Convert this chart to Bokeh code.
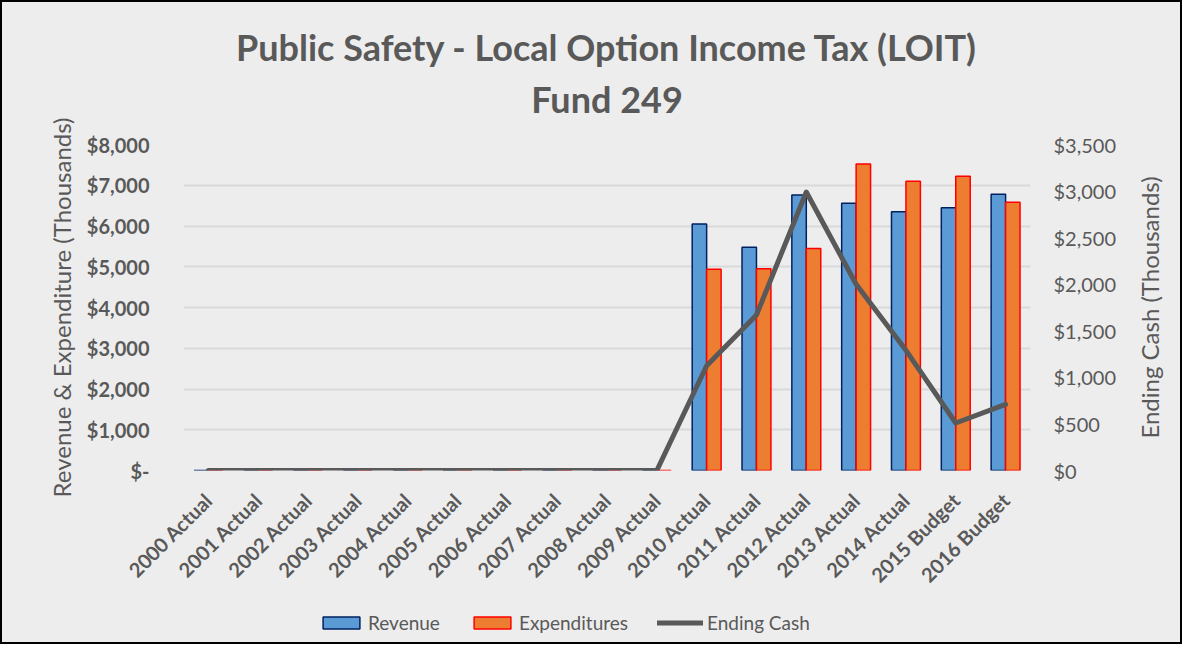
from bokeh.plotting import figure
from bokeh.layouts import column, row
from bokeh.models import (ColumnDataSource, FactorRange, Range1d, LinearAxis,
                          SingleIntervalTicker, CustomJSTickFormatter, Legend,
                          LegendItem, Title)
from bokeh.transform import dodge
from bokeh.embed import file_html
from bokeh.resources import INLINE

years = ["2000 Actual", "2001 Actual", "2002 Actual", "2003 Actual", "2004 Actual",
         "2005 Actual", "2006 Actual", "2007 Actual", "2008 Actual", "2009 Actual",
         "2010 Actual", "2011 Actual", "2012 Actual", "2013 Actual", "2014 Actual",
         "2015 Budget", "2016 Budget"]
revenue = [0, 0, 0, 0, 0, 0, 0, 0, 0, 0,
           6050, 5480, 6760, 6560, 6350, 6450, 6780]
expenditures = [0, 0, 0, 0, 0, 0, 0, 0, 0, 0,
                4940, 4950, 5450, 7520, 7100, 7220, 6580]
ending_cash = [0, 0, 0, 0, 0, 0, 0, 0, 0, 0,
               1125, 1670, 2990, 2000, 1290, 510, 710]

FONT = "Lato"
GRAY = "#595959"
BG = "#EDEDED"
REV_FILL, REV_LINE = "#5B9BD5", "#002060"
EXP_FILL, EXP_LINE = "#ED7D31", "#FF0000"

src = ColumnDataSource(dict(x=years, rev=revenue, exp=expenditures, cash=ending_cash))

W = 1178
H = 595
p = figure(x_range=FactorRange(*years), y_range=Range1d(0, 8000),
           width=1128, height=H, output_backend="svg", toolbar_location=None,
           min_border_left=181, min_border_right=100, min_border_top=142,
           min_border_bottom=126)
p.background_fill_color = BG
p.border_fill_color = BG
p.outline_line_color = None

p.extra_y_ranges = {"cash": Range1d(0, 3500)}

bw = 0.29
p.vbar(x=dodge("x", -bw / 2, range=p.x_range), top="rev", width=bw, source=src,
       fill_color=REV_FILL, line_color=REV_LINE, line_width=1.5)
p.vbar(x=dodge("x", bw / 2, range=p.x_range), top="exp", width=bw, source=src,
       fill_color=EXP_FILL, line_color=EXP_LINE, line_width=1.5)
p.line(x="x", y="cash", source=src, y_range_name="cash",
       line_color=GRAY, line_width=5, line_cap="round", line_join="round")

# left axis
ya = p.yaxis[0]
ya.ticker = SingleIntervalTicker(interval=1000)
ya.formatter = CustomJSTickFormatter(code="""
    return tick == 0 ? "$-" : "$" + tick.toLocaleString("en-US");
""")
ya.axis_label = "Revenue & Expenditure (Thousands)"
ya.axis_label_text_font = FONT
ya.axis_label_text_font_size = "24px"
ya.axis_label_text_font_style = "normal"
ya.axis_label_text_color = GRAY
ya.axis_label_standoff = 8
ya.major_label_text_font = FONT
ya.major_label_text_font_size = "20px"
ya.major_label_text_font_style = "bold"
ya.major_label_text_color = GRAY
ya.major_label_standoff = 28
ya.axis_line_color = None
ya.major_tick_line_color = None
ya.minor_tick_line_color = None

# right axis (its title is drawn by the narrow strip to the right)
ra = LinearAxis(y_range_name="cash", ticker=SingleIntervalTicker(interval=500))
ra.formatter = CustomJSTickFormatter(code="""
    return "$" + tick.toLocaleString("en-US");
""")
ra.major_label_text_font = FONT
ra.major_label_text_font_size = "20px"
ra.major_label_text_color = GRAY
ra.major_label_standoff = 17
ra.axis_line_color = None
ra.major_tick_line_color = None
ra.minor_tick_line_color = None
p.add_layout(ra, "right")

# x axis
xa = p.xaxis[0]
xa.major_label_orientation = 0.785398
xa.major_label_text_font = FONT
xa.major_label_text_font_size = "20px"
xa.major_label_text_font_style = "bold"
xa.major_label_text_color = GRAY
xa.major_label_standoff = 20
xa.axis_line_color = None
xa.major_tick_line_color = None

p.xgrid.grid_line_color = None
p.ygrid.grid_line_color = "#D9D9D9"
p.ygrid.grid_line_width = 2
p.ygrid.ticker = SingleIntervalTicker(interval=1000)

# titles
t2 = Title(text="Fund 249", align="center", text_font=FONT, text_font_size="36px",
           text_font_style="bold", text_color=GRAY, standoff=47)
t1 = Title(text="Public Safety - Local Option Income Tax (LOIT)", align="center",
           text_font=FONT, text_font_size="36px", text_font_style="bold",
           text_color=GRAY, standoff=0)
try:
    t1.standoff = -34
except Exception:
    pass
p.title = None
p.add_layout(t2, "above")
p.add_layout(t1, "above")

# narrow strip carrying the right axis title, reading bottom to top
p3 = figure(width=W - 1128, height=H, output_backend="svg", toolbar_location=None,
            min_border=0, min_border_top=142, min_border_bottom=126,
            x_axis_location=None, y_axis_location=None)
p3.background_fill_alpha = 0
p3.border_fill_alpha = 0
p3.outline_line_color = None
p3.grid.visible = False
p3.title = None
p3.add_layout(Title(text="Ending Cash (Thousands)", align="center", text_font=FONT,
                    text_font_size="24px", text_font_style="normal",
                    text_color=GRAY, standoff=4), "left")

# legend strip: hidden copies of the series supply the legend glyphs
p2 = figure(width=W, height=45, output_backend="svg", toolbar_location=None,
            x_range=FactorRange(*years), y_range=Range1d(0, 8000), min_border=0,
            min_border_left=181, min_border_right=150,
            x_axis_location=None, y_axis_location=None)
p2.background_fill_alpha = 0
p2.border_fill_alpha = 0
p2.outline_line_color = None
p2.grid.visible = False
l_rev = p2.vbar(x="x", top="rev", source=src, width=0.29, fill_color=REV_FILL,
                line_color=REV_LINE, line_width=1.5, visible=False)
l_exp = p2.vbar(x="x", top="exp", source=src, width=0.29, fill_color=EXP_FILL,
                line_color=EXP_LINE, line_width=1.5, visible=False)
l_cash = p2.line(x="x", y="cash", source=src, line_color=GRAY, line_width=5,
                 line_cap="round", visible=False)

legend = Legend(items=[LegendItem(label="Revenue", renderers=[l_rev]),
                       LegendItem(label="Expenditures", renderers=[l_exp]),
                       LegendItem(label="Ending Cash", renderers=[l_cash])],
                orientation="horizontal", location=(135, 8),
                label_text_font=FONT, label_text_font_size="19px",
                label_text_color=GRAY, background_fill_alpha=0,
                border_line_color=None, glyph_width=46, glyph_height=15,
                spacing=29, label_standoff=4, padding=0, margin=0,
                inactive_fill_alpha=0)
p2.add_layout(legend, "center")

layout = column(row(p, p3, spacing=0), p2, spacing=0,
                styles={"border": "2px solid black", "background-color": BG})

open("out.html", "w").write(file_html(layout, INLINE))
